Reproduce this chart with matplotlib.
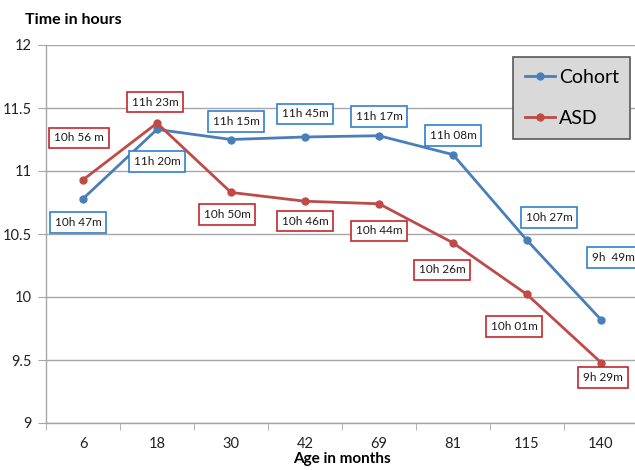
import matplotlib
matplotlib.use("Agg")
import matplotlib.pyplot as plt
import numpy as np

# ---------------------------------------------------------------------------
# Data
# ---------------------------------------------------------------------------
ages = ["6", "18", "30", "42", "69", "81", "115", "140"]
cohort_hours = [10.78, 11.33, 11.25, 11.27, 11.28, 11.13, 10.45, 9.82]
asd_hours = [10.93, 11.38, 10.83, 10.76, 10.74, 10.43, 10.02, 9.48]
cohort_labels = ["10h 47m", "11h 20m", "11h 15m", "11h 45m",
                 "11h 17m", "11h 08m", "10h 27m", "9h  49m"]
asd_labels = ["10h 56 m", "11h 23m", "10h 50m", "10h 46m",
              "10h 44m", "10h 26m", "10h 01m", "9h 29m"]

# label offsets from each point, in pixels (x right, y up)
cohort_offsets = [(-5, -24), (0, -32), (5, 18), (0, 23),
                  (0, 19), (0, 19), (22, 23), (12, 62)]
asd_offsets = [(-4, 42), (-2, 21), (-4, -22), (0, -20),
               (0, -27), (-11, -27), (-13, -32), (2, -15)]

BLUE = "#4a7ebb"
RED = "#be4b48"
BLUE_BOX = "#2f7fd0"
RED_BOX = "#c4262c"
GRID = "#a6a6a6"

plt.rcParams["font.family"] = ["Lato", "DejaVu Sans"]

W, H = 635, 470
fig = plt.figure(figsize=(W / 100, H / 100), dpi=100)
ax = fig.add_axes([46 / W, 1 - 423 / H, 592 / W, 378 / H])

x = np.arange(len(ages))
ax.plot(x, cohort_hours, color=BLUE, lw=2.0, marker="o", ms=5, label="Cohort", zorder=3)
ax.plot(x, asd_hours, color=RED, lw=2.0, marker="o", ms=5, label="ASD", zorder=3)

def add_labels(values, labels, offsets, edge):
    for xi, yi, txt, (dx, dy) in zip(x, values, labels, offsets):
        ax.annotate(txt, (xi, yi), xytext=(dx, dy), textcoords="offset pixels",
                    ha="center", va="center", fontsize=8.5, color="#1a1a1a",
                    bbox=dict(boxstyle="square,pad=0.4", fc="white", ec=edge, lw=1.2),
                    zorder=4, annotation_clip=False)

add_labels(cohort_hours, cohort_labels, cohort_offsets, BLUE_BOX)
add_labels(asd_hours, asd_labels, asd_offsets, RED_BOX)

ax.set_xlim(-0.5, len(ages) - 0.5)
ax.set_ylim(9, 12)
ax.set_yticks([9, 9.5, 10, 10.5, 11, 11.5, 12])
ax.set_yticklabels(["9", "9.5", "10", "10.5", "11", "11.5", "12"])
ax.set_xticks(x)
ax.set_xticklabels(ages)
ax.set_xticks(np.arange(len(ages) + 1) - 0.5, minor=True)

ax.tick_params(axis="x", which="major", length=0, pad=10, labelsize=10.5, colors="#222222")
ax.tick_params(axis="x", which="minor", length=5, color=GRID)
ax.tick_params(axis="y", length=6, pad=4, labelsize=10.5, color=GRID, labelcolor="#222222")

ax.yaxis.grid(True, color=GRID, lw=1.0)
ax.set_axisbelow(True)
for side in ["top", "right"]:
    ax.spines[side].set_visible(False)
for side in ["left", "bottom"]:
    ax.spines[side].set_color(GRID)
    ax.spines[side].set_linewidth(1.0)

ax.set_xlabel("Age in months", fontsize=11, fontweight="bold", labelpad=1)
fig.text(25 / W, 1 - 20 / H, "Time in hours", fontsize=11.5, fontweight="bold",
         ha="left", va="center")

leg = ax.legend(loc="upper left", bbox_to_anchor=(513 / W, 1 - 57 / H),
                bbox_transform=fig.transFigure, borderaxespad=0, fontsize=14,
                frameon=True, fancybox=False, facecolor="#d9d9d9",
                edgecolor="#595959", handlelength=1.55, handletextpad=0.2,
                labelspacing=1.25, borderpad=0.6)
leg.get_frame().set_linewidth(1.2)
leg.get_frame().set_alpha(1)

fig.savefig("out.png", dpi=100)
plt.close(fig)
